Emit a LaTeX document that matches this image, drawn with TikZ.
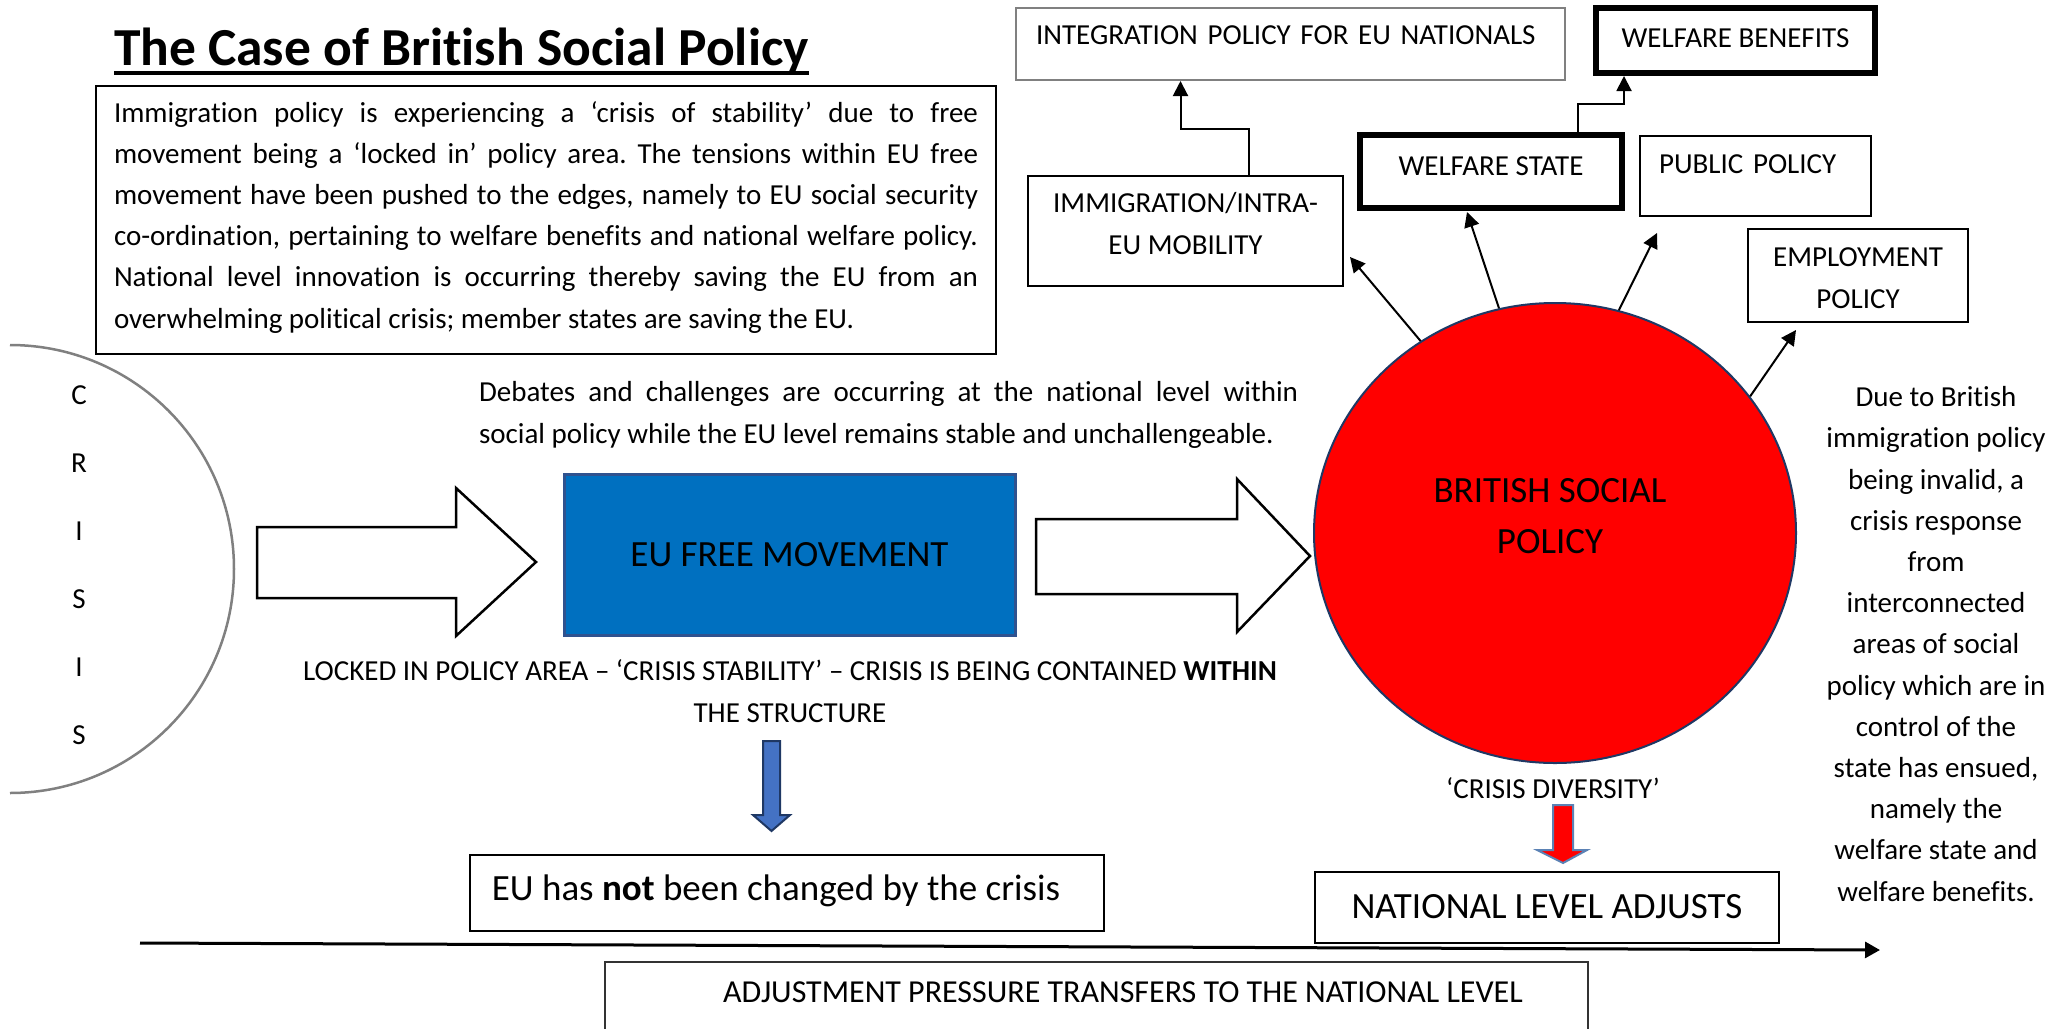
\documentclass[tikz,border=0pt]{standalone}
\usepackage{fontspec}
\setmainfont{Carlito}[Ligatures={NoCommon,NoContextual}]
\usetikzlibrary{shapes.geometric,arrows.meta}
\definecolor{eublue}{HTML}{0070C0}
\definecolor{eudark}{HTML}{2F528F}
\definecolor{navy}{HTML}{1F3864}
\definecolor{arrowblue}{HTML}{4472C4}
\definecolor{steel}{HTML}{5B82B5}
\definecolor{boxgray}{HTML}{808080}
\frenchspacing

\begin{document}
\begin{tikzpicture}[x=1pt,y=-1pt,
  txt/.style={font=\fontsize{29}{41.2}\selectfont,inner sep=0pt,outer sep=0pt},
  big/.style={font=\fontsize{37}{51}\selectfont,inner sep=0pt,outer sep=0pt},
  box/.style={draw,line width=2.5pt,anchor=north west,inner sep=0pt,outer sep=0pt},
  heavybox/.style={box,line width=6pt},
  conn/.style={line width=2pt,-{Triangle[length=15pt,width=15pt]}},
  blockarrow/.style={draw,fill=white,line width=2.5pt,line join=miter}]
\useasboundingbox (0,0) rectangle (2071,1028);
\clip (0,0) rectangle (2071,1028);
\fill[white] (0,0) rectangle (2071,1028);
\newcommand{\ArrowA}{(257,527) -- (456,527) -- (456,488) -- (536,562) -- (456,636) -- (456,598) -- (257,598) -- cycle}%crisis to EU
\newcommand{\ArrowB}{(1036,519) -- (1237,519) -- (1237,479) -- (1310,556) -- (1237,632) -- (1237,594) -- (1036,594) -- cycle}%EU to Britain
\newcommand{\DownBlue}{(763,741) -- (780,741) -- (780,815) -- (790,815) -- (771.5,831) -- (753,815) -- (763,815) -- cycle}%blue down
\newcommand{\DownRed}{(1553,805) -- (1573,805) -- (1573,850) -- (1587,850) -- (1563,863) -- (1537,850) -- (1553,850) -- cycle}%red down
% title
\node[txt,font=\fontsize{53.5}{60}\selectfont\bfseries,anchor=base west] (title) at (114,65) {The Case of British Social Policy};
\draw[line width=3.5pt] ([yshift=-8pt]title.base west) -- ([yshift=-8pt]title.base east);
% text box
\node[txt,box,inner xsep=18pt,text height=242pt,text depth=26pt] (parabox) at (96,86) {\parbox[b]{864pt}{Immigration policy is experiencing a ‘crisis of stability’ due to free\linebreak movement being a ‘locked in’ policy area. The tensions within EU free\linebreak movement have been pushed to the edges, namely to EU social security\linebreak co-ordination, pertaining to welfare benefits and national welfare policy.\linebreak National level innovation is occurring thereby saving the EU from an\linebreak overwhelming political crisis; member states are saving the EU.}};
% crisis
\draw[boxgray,line width=2.5pt] (10,345) arc[start angle=-90,end angle=90,radius=224];
\foreach \l [count=\i] in {C,R,I,S,I,S}
  \node[txt,anchor=base] (crisis\i) at (79,336+68*\i) {\l};
\draw[blockarrow] \ArrowA;
% EU level
\node[txt,anchor=base west] (debates) at (479,443) {\parbox[b]{819pt}{Debates and challenges are occurring at the national level within\linebreak social policy while the EU level remains stable and unchallengeable.}};
\node[big,draw=eudark,fill=eublue,line width=3pt,minimum width=451pt,minimum height=161pt] (eufm) at (789.5,554.5) {EU FREE MOVEMENT};
\node[txt,anchor=base] (locked) at (790,722) {\parbox[b]{1010pt}{\centering LOCKED IN POLICY AREA – ‘CRISIS STABILITY’ – CRISIS IS BEING CONTAINED \textbf{WITHIN}\\THE STRUCTURE}};
\draw[fill=arrowblue,draw=navy,line width=2pt] \DownBlue;
\node[big,box,minimum width=634pt,text height=45pt,text depth=31pt] (eunot) at (470,855) {\hspace*{-22pt}EU has \textbf{not} been changed by the crisis};
\draw[blockarrow] \ArrowB;
% national level
\node[ellipse,draw=navy,fill=red,line width=2pt,minimum width=482pt,minimum height=460pt,inner sep=0pt] (bsp) at (1555,533) {};
\node[big,anchor=base] (bsptext) at (1550,553) {\parbox[b]{300pt}{\centering BRITISH SOCIAL\\POLICY}};
\node[txt,anchor=base] (diversity) at (1553,798) {‘CRISIS DIVERSITY’};
\draw[fill=red,draw=steel,line width=2pt] \DownRed;
\node[big,box,minimum width=464pt,text height=46pt,text depth=25pt] (natbox) at (1315,872) {NATIONAL LEVEL ADJUSTS};
\node[txt,anchor=base] (righttxt) at (1936,901) {\parbox[b]{250pt}{\centering Due to British\\immigration policy\\being invalid, a\\crisis response\\from\\interconnected\\areas of social\\policy which are in\\control of the\\state has ensued,\\namely the\\welfare state and\\welfare benefits.}};
% policy areas
\node[txt,box,draw=boxgray,line width=2pt,inner xsep=20pt,text width=509pt,align=left,text height=36pt,text depth=36pt] (intbox) at (1016,8) {INTEGRATION POLICY FOR EU NATIONALS};
\node[txt,heavybox,minimum width=279pt,text height=39pt,text depth=26pt] (wbbox) at (1596,8) {WELFARE BENEFITS};
\node[txt,heavybox,minimum width=262pt,text height=40pt,text depth=33pt] (wsbox) at (1360,135) {WELFARE STATE};
\node[txt,box,line width=2pt,inner xsep=19pt,text width=193pt,align=left,text height=37pt,text depth=43pt] (ppbox) at (1640,136) {PUBLIC POLICY};
\node[txt,box,text height=78pt,text depth=32pt] (imbox) at (1028,176) {\parbox[b]{315pt}{\centering IMMIGRATION/INTRA-\\EU MOBILITY}};
\node[txt,box,text height=79pt,text depth=14pt] (emplbox) at (1748,229) {\parbox[b]{220pt}{\centering EMPLOYMENT\\POLICY}};
\draw[conn,shorten >=1pt] ([xshift=63pt]imbox.north) -- ++(0,-47) -| ([xshift=-110pt]intbox.south);
\draw[conn,shorten >=3pt] ([xshift=87pt]wsbox.north) -- ++(0,-31) -| ([xshift=-111.5pt]wbbox.south);
\coordinate (tipim) at (1350,257);
\coordinate (tipws) at (1467,212);
\coordinate (tippp) at (1657,233);
\coordinate (tipem) at (1796,330);
\draw[conn] (bsp.125.8) -- (tipim);
\draw[conn] (bsp.104.2) -- (tipws);
\draw[conn] (bsp.74.3) -- (tippp);
\draw[conn] (bsp.35.8) -- (tipem);
% bottom
\coordinate (axisl) at (140,943);
\coordinate (axisr) at (1880,950);
\draw[line width=3pt,-{Triangle[length=15pt,width=16pt]}] (axisl) -- (axisr);
\node[txt,font=\fontsize{32}{40}\selectfont,box,line width=2pt,draw=black!80,minimum width=983pt,text height=40pt,text depth=43pt] (adjbox) at (605,962) {\hspace*{53pt}ADJUSTMENT PRESSURE TRANSFERS TO THE NATIONAL LEVEL};
\end{tikzpicture}
\end{document}
